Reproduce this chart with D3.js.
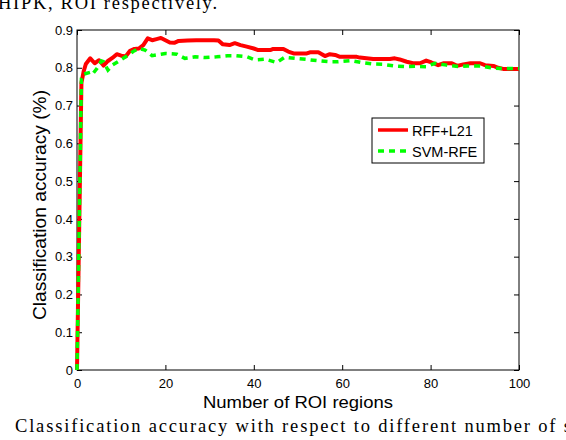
<!DOCTYPE html>
<html>
<head>
<meta charset="utf-8">
<script src="https://cdn.jsdelivr.net/npm/d3@7"></script>
<style>
  body { margin: 0; background: #fff; }
  svg { display: block; }
</style>
</head>
<body>
<div id="chart"></div>
<script>
const xTicks = [0, 20, 40, 60, 80, 100];
const yTicks = [0, 0.1, 0.2, 0.3, 0.4, 0.5, 0.6, 0.7, 0.8, 0.9];
const seriesNames = ['RFF+L21', 'SVM-RFE'];

const redX = [0, 1, 1.5, 2, 3, 4, 5, 6, 7, 8, 9, 10, 11, 12, 13, 14, 15, 16, 17, 18, 19, 20, 21, 22, 23, 25, 27, 29, 31, 32, 33, 34.5, 35.7, 37, 38.4, 40, 41, 43.7, 44.4, 46.7, 47.8, 49, 52, 52.7, 54.6, 55.4, 56.1, 57.2, 58.4, 59.5, 63.3, 64, 65.5, 67, 70.8, 71.9, 73, 74.6, 76, 77.6, 79, 80.2, 81.7, 83, 84.8, 86, 87.4, 89, 91.2, 92.3, 94.2, 95.3, 96.4, 100];
const redY = [0, 0.76, 0.79, 0.81, 0.825, 0.812, 0.82, 0.806, 0.818, 0.826, 0.836, 0.832, 0.83, 0.845, 0.85, 0.851, 0.86, 0.878, 0.873, 0.876, 0.879, 0.873, 0.867, 0.866, 0.871, 0.872, 0.873, 0.873, 0.873, 0.872, 0.862, 0.86, 0.865, 0.86, 0.856, 0.851, 0.847, 0.847, 0.85, 0.85, 0.843, 0.838, 0.838, 0.841, 0.841, 0.836, 0.831, 0.836, 0.834, 0.829, 0.829, 0.827, 0.825, 0.823, 0.823, 0.825, 0.822, 0.816, 0.812, 0.812, 0.819, 0.814, 0.807, 0.812, 0.812, 0.805, 0.809, 0.812, 0.812, 0.807, 0.805, 0.8, 0.797, 0.797];

const greenX = [0, 1, 1.5, 3, 3.5, 4.5, 5.5, 6, 7, 8, 9.5, 11, 12.7, 14, 15.4, 17, 19, 20, 22.6, 24.4, 26.7, 29, 31.6, 34, 36, 38.5, 40.3, 42.5, 45.2, 47, 49.3, 52, 54.2, 57, 59, 62, 64.4, 67, 69.3, 71.6, 74.2, 76.5, 79, 81, 83.6, 86.3, 88.5, 91.2, 93.6, 96, 100];
const greenY = [0, 0.772, 0.783, 0.788, 0.783, 0.798, 0.818, 0.816, 0.794, 0.807, 0.818, 0.829, 0.843, 0.851, 0.847, 0.832, 0.836, 0.838, 0.836, 0.825, 0.829, 0.827, 0.829, 0.832, 0.832, 0.829, 0.821, 0.823, 0.814, 0.828, 0.825, 0.822, 0.819, 0.816, 0.816, 0.819, 0.814, 0.81, 0.809, 0.805, 0.803, 0.804, 0.803, 0.812, 0.807, 0.803, 0.805, 0.805, 0.8, 0.798, 0.798];

const width = 566;
const height = 440;
const margin = { top: 30, right: 47, bottom: 70, left: 77 };
const plotW = width - margin.left - margin.right;
const plotH = height - margin.top - margin.bottom;
const font = '"Liberation Sans", Arial, Helvetica, sans-serif';
const serif = '"Liberation Serif", "Times New Roman", serif';

const svg = d3.select('#chart')
  .append('svg')
  .attr('width', width)
  .attr('height', height);

// bits of the paper's text around the figure
svg.append('text')
  .attr('x', -2)
  .attr('y', 9)
  .attr('font-family', serif)
  .attr('font-size', '18.5px')
  .attr('textLength', 219)
  .attr('lengthAdjust', 'spacing')
  .text('HIPK, ROI respectively.');

svg.append('text')
  .attr('x', 15)
  .attr('y', 432)
  .attr('font-family', serif)
  .attr('font-size', '18.5px')
  .attr('textLength', 556)
  .attr('lengthAdjust', 'spacing')
  .text('Classification accuracy with respect to different number of s');

const xScale = d3.scaleLinear().domain([0, 100]).range([0, plotW]);
const yScale = d3.scaleLinear().domain([0, 0.9]).range([plotH, 0]);

const g = svg.append('g')
  .attr('transform', `translate(${margin.left}, ${margin.top})`);

g.append('rect')
  .attr('width', plotW)
  .attr('height', plotH)
  .attr('fill', 'none')
  .attr('stroke', '#000')
  .attr('stroke-width', 1);

// ticks point inward on all four sides, like matlab
const styleAxis = (sel) => {
  sel.select('.domain').remove();
  sel.selectAll('line').attr('stroke', '#000');
  sel.selectAll('text')
    .attr('font-family', font)
    .attr('font-size', '13px')
    .attr('fill', '#000');
};

g.append('g')
  .attr('transform', `translate(0, ${plotH})`)
  .call(d3.axisBottom(xScale).tickValues(xTicks).tickSizeInner(-5).tickSizeOuter(0).tickPadding(9).tickFormat(d3.format('d')))
  .call(styleAxis);

g.append('g')
  .call(d3.axisTop(xScale).tickValues(xTicks).tickSizeInner(-5).tickSizeOuter(0).tickFormat(''))
  .call(styleAxis);

g.append('g')
  .call(d3.axisLeft(yScale).tickValues(yTicks).tickSizeInner(-5).tickSizeOuter(0).tickPadding(4).tickFormat((d) => d === 0 ? '0' : d3.format('.1f')(d)))
  .call(styleAxis);

g.append('g')
  .attr('transform', `translate(${plotW}, 0)`)
  .call(d3.axisRight(yScale).tickValues(yTicks).tickSizeInner(-5).tickSizeOuter(0).tickFormat(''))
  .call(styleAxis);

const line = d3.line()
  .x((d) => xScale(d[0]))
  .y((d) => yScale(d[1]));

g.append('path')
  .datum(redX.map((x, i) => [x, redY[i]]))
  .attr('d', line)
  .attr('fill', 'none')
  .attr('stroke', '#ff0000')
  .attr('stroke-width', 4)
  .attr('stroke-linejoin', 'round');

g.append('path')
  .datum(greenX.map((x, i) => [x, greenY[i]]))
  .attr('d', line)
  .attr('fill', 'none')
  .attr('stroke', '#00ff00')
  .attr('stroke-width', 3.5)
  .attr('stroke-dasharray', '6,5');

// axis titles
svg.append('text')
  .attr('x', margin.left + plotW / 2)
  .attr('y', 408)
  .attr('text-anchor', 'middle')
  .attr('font-family', font)
  .attr('font-size', '17px')
  .attr('textLength', 190)
  .attr('lengthAdjust', 'spacingAndGlyphs')
  .text('Number of ROI regions');

svg.append('text')
  .attr('transform', 'translate(46, 205) rotate(-90)')
  .attr('text-anchor', 'middle')
  .attr('font-family', font)
  .attr('font-size', '17.5px')
  .attr('textLength', 230)
  .attr('lengthAdjust', 'spacingAndGlyphs')
  .text('Classification accuracy (%)');

// legend
const legend = svg.append('g').attr('transform', 'translate(372, 118)');
legend.append('rect')
  .attr('width', 112)
  .attr('height', 45)
  .attr('fill', '#fff')
  .attr('stroke', '#000')
  .attr('stroke-width', 1);

const legendItems = [
  { name: seriesNames[0], color: '#ff0000', dash: null },
  { name: seriesNames[1], color: '#00ff00', dash: '6,5' }
];

legendItems.forEach((d, i) => {
  const yy = 12 + i * 21;
  legend.append('line')
    .attr('x1', 6)
    .attr('x2', 36)
    .attr('y1', yy)
    .attr('y2', yy)
    .attr('stroke', d.color)
    .attr('stroke-width', 3.5)
    .attr('stroke-dasharray', d.dash);
  legend.append('text')
    .attr('x', 40)
    .attr('y', yy + 5.5)
    .attr('font-family', font)
    .attr('font-size', '14.5px')
    .text(d.name);
});
</script>
</body>
</html>
